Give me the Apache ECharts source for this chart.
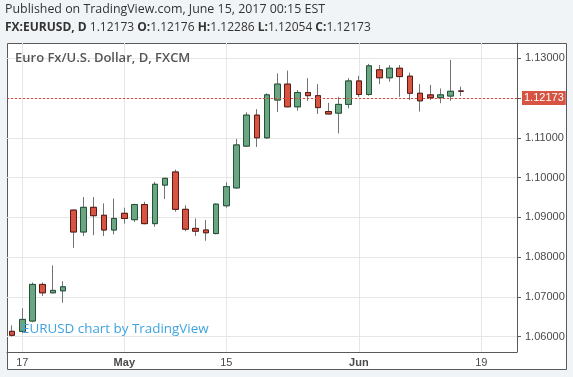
<!DOCTYPE html>
<html>
<head>
<meta charset="utf-8">
<script src="https://cdn.jsdelivr.net/npm/echarts@6/dist/echarts.min.js"></script>
<style>
  html, body { margin: 0; padding: 0; background: #f1f4f7; }
  #chart { width: 573px; height: 377px; }
</style>
</head>
<body>
<div id="chart"></div>
<script>
// trading days (FXCM daily), plus empty days on the right of the axis
var dates = [
  '2017-04-14', '2017-04-17', '2017-04-18', '2017-04-19', '2017-04-20', '2017-04-21',
  '2017-04-24', '2017-04-25', '2017-04-26', '2017-04-27', '2017-04-28',
  '2017-05-01', '2017-05-02', '2017-05-03', '2017-05-04', '2017-05-05',
  '2017-05-08', '2017-05-09', '2017-05-10', '2017-05-11', '2017-05-12',
  '2017-05-15', '2017-05-16', '2017-05-17', '2017-05-18', '2017-05-19',
  '2017-05-22', '2017-05-23', '2017-05-24', '2017-05-25', '2017-05-26',
  '2017-05-29', '2017-05-30', '2017-05-31', '2017-06-01', '2017-06-02',
  '2017-06-05', '2017-06-06', '2017-06-07', '2017-06-08', '2017-06-09',
  '2017-06-12', '2017-06-13', '2017-06-14', '2017-06-15',
  '2017-06-16', '2017-06-19', '2017-06-20', '2017-06-21', '2017-06-22'
];
var opens = [
  1.0613, 1.0613, 1.0639, 1.0731, 1.0710, 1.0715,
  1.0918, 1.0863, 1.0925, 1.0905, 1.0868,
  1.0910, 1.0894, 1.0932, 1.0884, 1.0981,
  1.1014, 1.0920, 1.0872, 1.0868, 1.0859,
  1.0929, 1.0974, 1.1079, 1.1157, 1.1100,
  1.1195, 1.1235, 1.1178, 1.1214, 1.1206,
  1.1166, 1.1162, 1.1184, 1.1243, 1.1209,
  1.1271, 1.1251, 1.1275, 1.1255, 1.1212,
  1.1208, 1.1201, 1.1205, 1.12176
];
var highs = [
  1.0628, 1.0671, 1.0736, 1.0736, 1.0779, 1.0739,
  1.0920, 1.0951, 1.0951, 1.0935, 1.0947,
  1.0924, 1.0934, 1.0939, 1.0989, 1.0999,
  1.1020, 1.0930, 1.0897, 1.0893, 1.0935,
  1.0988, 1.1097, 1.1164, 1.1172, 1.1212,
  1.1262, 1.1269, 1.1220, 1.1250, 1.1235,
  1.1188, 1.1203, 1.1250, 1.1256, 1.1286,
  1.1283, 1.1283, 1.1283, 1.1264, 1.1235,
  1.1233, 1.1224, 1.1296, 1.12286
];
var lows = [
  1.0600, 1.0608, 1.0636, 1.0702, 1.0709, 1.0685,
  1.0823, 1.0853, 1.0855, 1.0853, 1.0857,
  1.0884, 1.0888, 1.0882, 1.0876, 1.0946,
  1.0914, 1.0865, 1.0853, 1.0841, 1.0857,
  1.0924, 1.0972, 1.1077, 1.1077, 1.1097,
  1.1165, 1.1177, 1.1168, 1.1193, 1.1160,
  1.1159, 1.1111, 1.1174, 1.1203, 1.1206,
  1.1235, 1.1241, 1.1203, 1.1195, 1.1166,
  1.1195, 1.1187, 1.1193, 1.12054
];
var closes = [
  1.0603, 1.0643, 1.0731, 1.0710, 1.0716, 1.0725,
  1.0863, 1.0925, 1.0904, 1.0868, 1.0897,
  1.0897, 1.0932, 1.0884, 1.0983, 1.0998,
  1.0920, 1.0870, 1.0865, 1.0861, 1.0933,
  1.0977, 1.1082, 1.1157, 1.1100, 1.1208,
  1.1235, 1.1178, 1.1214, 1.1206, 1.1176,
  1.1160, 1.1184, 1.1243, 1.1209, 1.1281,
  1.1251, 1.1275, 1.1254, 1.1212, 1.1193,
  1.1201, 1.1208, 1.1217, 1.12173
];
var lastPrice = 1.12173;

// x axis labels
var tickDates = ['2017-04-17', '2017-05-01', '2017-05-15', '2017-06-01', '2017-06-19'];
var tickTexts = ['17', '{m|May}', '15', '{m|Jun}', '19'];
// y axis labels
var yTicks = [1.06, 1.07, 1.08, 1.09, 1.10, 1.11, 1.12, 1.13];

var wickData = [];
var bodyData = [];
for (var i = 0; i < opens.length; i++) {
  wickData.push([opens[i], closes[i], lows[i], highs[i]]);
  bodyData.push([opens[i], closes[i], Math.min(opens[i], closes[i]), Math.max(opens[i], closes[i])]);
}

function isTick(idx, val) {
  return tickDates.indexOf(val) >= 0;
}

var chart = echarts.init(document.getElementById('chart'));
var option = {
  animation: false,
  backgroundColor: '#f1f4f7',
  grid: { left: 7, right: 56, top: 43, bottom: 25 },
  graphic: [
    {
      type: 'rect', z: -10, silent: true,
      shape: { x: 7.5, y: 43.5, width: 559, height: 326 },
      style: { fill: '#fff', stroke: '#5a5a5a', lineWidth: 1 }
    },
    {
      type: 'text', left: 5, top: 3, z: 100,
      style: {
        text: 'Published on TradingView.com, June 15, 2017 00:15 EST',
        font: '12.4px "Open Sans"', fill: '#333'
      }
    },
    {
      type: 'text', left: 5, top: 22, z: 100,
      style: {
        text: '{b|FX:EURUSD, D} 1.12173 {b|O:}1.12176 {b|H:}1.12286 {b|L:}1.12054 {b|C:}1.12173',
        font: '12px "Open Sans"', fill: '#333',
        rich: { b: { fontWeight: 'bold', fontFamily: 'Open Sans', fontSize: 12, fill: '#333' } }
      }
    },
    {
      type: 'text', left: 15, top: 52, z: 100,
      style: {
        text: 'Euro Fx/U.S. Dollar, D, FXCM',
        font: '600 13px "Open Sans"', fill: '#555'
      }
    },
    {
      type: 'text', left: 22, top: 323, z: 100,
      style: {
        text: 'EURUSD chart by TradingView',
        font: '13.4px "Open Sans"', fill: '#3fa3e0'
      }
    }
  ],
  xAxis: {
    type: 'category',
    data: dates,
    boundaryGap: true,
    axisLine: { lineStyle: { color: '#5a5a5a' } },
    axisTick: { interval: isTick, alignWithLabel: true, length: 3, lineStyle: { color: '#5a5a5a' } },
    axisLabel: {
      interval: isTick,
      margin: 5,
      color: '#4a4a4a',
      fontFamily: 'Liberation Sans',
      fontSize: 11,
      formatter: function (val) {
        return tickTexts[tickDates.indexOf(val)];
      },
      rich: { m: { fontWeight: 'bold', color: '#4a4a4a', fontFamily: 'Liberation Sans', fontSize: 11 } }
    },
    splitLine: { show: true, interval: isTick, alignWithLabel: true, lineStyle: { color: '#e6e6e6' } }
  },
  yAxis: {
    type: 'value',
    position: 'right',
    scale: true,
    min: 1.0561,
    max: 1.13385,
    axisLine: { show: true, lineStyle: { color: '#5a5a5a' } },
    axisTick: { show: true, length: 4, customValues: yTicks, lineStyle: { color: '#5a5a5a' } },
    axisLabel: {
      customValues: yTicks,
      margin: 8,
      color: '#4a4a4a',
      fontFamily: 'Liberation Sans',
      fontSize: 11,
      formatter: function (v) { return v.toFixed(5); }
    },
    splitLine: { show: true, lineStyle: { color: '#e6e6e6' } }
  },
  series: [
    {
      name: 'wick',
      type: 'candlestick',
      data: wickData,
      barWidth: 6,
      itemStyle: {
        color: 'rgba(0,0,0,0)', color0: 'rgba(0,0,0,0)',
        borderColor: '#737375', borderColor0: '#737375', borderWidth: 1
      }
    },
    {
      name: 'EURUSD',
      type: 'candlestick',
      data: bodyData,
      barWidth: 6,
      itemStyle: {
        color: '#6ba583', color0: '#d75442',
        borderColor: '#225437', borderColor0: '#5b1a13', borderWidth: 1
      },
      markLine: {
        silent: true,
        symbol: 'none',
        lineStyle: { color: '#e0473a', type: [2, 2], width: 1 },
        label: {
          position: 'end',
          distance: 5,
          formatter: lastPrice.toFixed(5),
          color: '#fff',
          backgroundColor: '#d75442',
          padding: [2, 2, 1, 2],
          fontFamily: 'Liberation Sans',
          fontSize: 11
        },
        data: [{ yAxis: lastPrice }]
      }
    }
  ]
};
chart.setOption(option);
</script>
</body>
</html>
